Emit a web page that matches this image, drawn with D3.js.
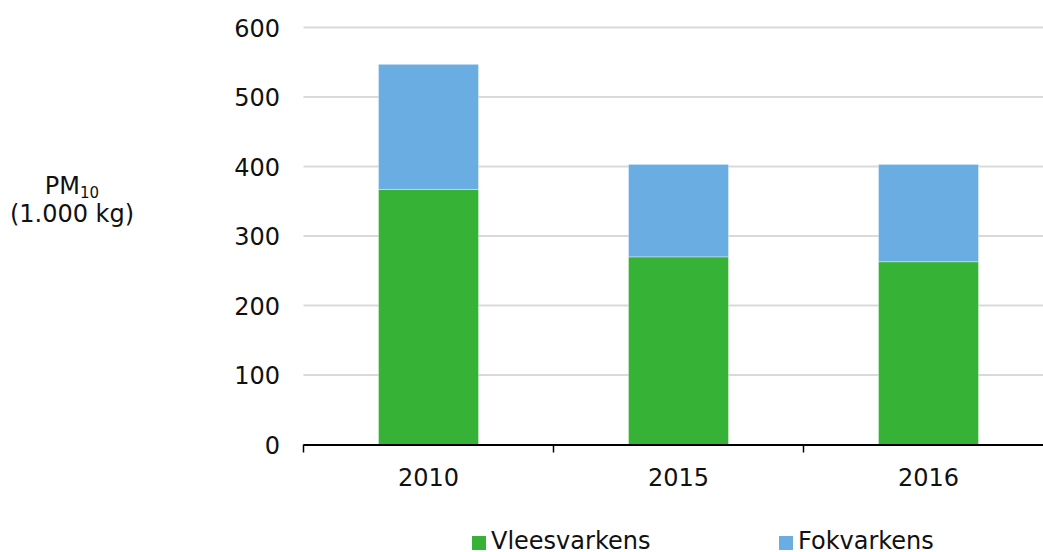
<!DOCTYPE html>
<html><head><meta charset="utf-8">
<script src="https://cdn.jsdelivr.net/npm/d3@7"></script>
<style>body{margin:0;background:#fff}svg{display:block;font-family:"DejaVu Sans",Verdana,sans-serif}</style>
</head><body>
<svg id="c" width="1043" height="552"></svg>
<script>
const categories = ["2010", "2015", "2016"];
const vleesvarkens = [367, 270, 263];
const fokvarkens = [180, 133, 140];
const seriesNames = ["Vleesvarkens", "Fokvarkens"];
const yTicks = [0, 100, 200, 300, 400, 500, 600];
const colors = ["#36b336", "#6aade3"];

const svg = d3.select("#c");
const x0 = 303.5, x1 = 1053.5, yTop = 27.5, yBot = 444.5;
const x = d3.scaleBand().domain(categories).range([x0, x1]).paddingInner(0.6).paddingOuter(0.3);
const y = d3.scaleLinear().domain([0, 600]).range([yBot, yTop]);

// gridlines
svg.append("g").selectAll("line").data(yTicks.filter(d => d > 0)).join("line")
  .attr("x1", x0).attr("x2", 1043).attr("y1", d => y(d)).attr("y2", d => y(d))
  .attr("stroke", "#d9d9d9").attr("stroke-width", 2);

// y labels
svg.append("g").selectAll("text").data(yTicks).join("text")
  .attr("x", 280).attr("y", d => y(d) + 9)
  .attr("text-anchor", "end").attr("font-size", 24).attr("fill", "#111")
  .text(d => d);

// stacked bars
const rows = categories.map((c, i) => ({cat: c, Vleesvarkens: vleesvarkens[i], Fokvarkens: fokvarkens[i]}));
const stack = d3.stack().keys(seriesNames)(rows);
svg.append("g").selectAll("g").data(stack).join("g")
  .attr("fill", (d, i) => colors[i])
  .selectAll("rect").data(d => d).join("rect")
  .attr("x", d => x(d.data.cat)).attr("width", x.bandwidth())
  .attr("y", d => y(d[1])).attr("height", d => y(d[0]) - y(d[1]))
  .attr("stroke", "rgba(255,255,255,0.35)").attr("stroke-width", 1);

// x axis
svg.append("line").attr("x1", x0).attr("x2", 1043).attr("y1", yBot + 0.5).attr("y2", yBot + 0.5)
  .attr("stroke", "#000").attr("stroke-width", 2);
const step = x.step();
const bounds = d3.range(categories.length).map(i => x0 + i * step);
svg.append("g").selectAll("line").data(bounds).join("line")
  .attr("x1", d => d).attr("x2", d => d).attr("y1", yBot).attr("y2", yBot + 8)
  .attr("stroke", "#000").attr("stroke-width", 1.5);
svg.append("g").selectAll("text").data(categories).join("text")
  .attr("x", d => x(d) + x.bandwidth() / 2).attr("y", 486)
  .attr("text-anchor", "middle").attr("font-size", 24).attr("fill", "#111")
  .text(d => d);

// y title
const yt = svg.append("text").attr("x", 72).attr("text-anchor", "middle").attr("font-size", 24).attr("fill", "#111");
yt.append("tspan").attr("x", 72).attr("y", 194).text("PM").append("tspan").attr("font-size", 15).attr("dy", 4).text("10");
yt.append("tspan").attr("x", 72).attr("y", 222).text("(1.000 kg)");

// legend
const legX = [472, 779];
const lg = svg.append("g").selectAll("g").data(seriesNames).join("g")
  .attr("transform", (d, i) => `translate(${legX[i]},536)`);
lg.append("rect").attr("width", 14).attr("height", 14).attr("fill", (d, i) => colors[i]);
lg.append("text").attr("x", 19).attr("y", 13).attr("font-size", 24).attr("fill", "#111").text(d => d);
</script>
</body></html>
